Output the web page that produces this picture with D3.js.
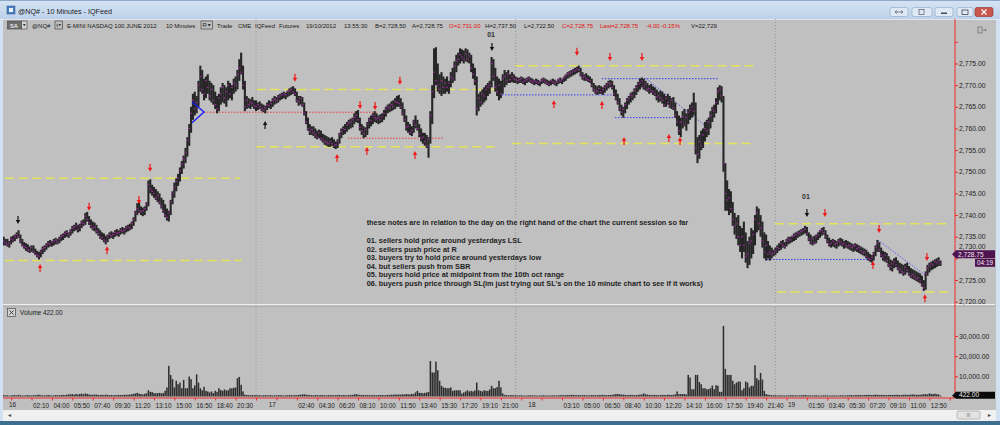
<!DOCTYPE html>
<html><head><meta charset="utf-8">
<script src="https://cdn.jsdelivr.net/npm/d3@7"></script>
<style>
html,body{margin:0;padding:0;background:#c0c0c0;overflow:hidden}
svg{display:block}
text{font-family:"Liberation Sans",Arial,sans-serif}
</style></head><body>
<svg id="c" width="1000" height="425"></svg>
<script>
// ---------------- DATA ----------------
// bar index: 140 ten-minute bars per session, session 16 starts at index 0
const sessionStarts = [4, 140, 280, 420];
// [high, low, close] per 10-minute bar
const bars16 = [
[2735,2733,2734],[2734.5,2733,2733.5],[2734.5,2732.75,2733.25],[2734,2732.5,2733.5],[2735,2733.25,2734.5],[2735.25,2733.75,2734.25],[2735.5,2734,2735],[2736,2734.5,2735.5],[2736.5,2734.75,2735],[2735.5,2733.5,2734],
[2734.5,2732.75,2733],[2733.75,2732.25,2732.75],[2733.5,2731.75,2732.5],[2733.25,2731.5,2732],[2732.75,2731.25,2731.75],[2733,2731.5,2732.5],[2733,2731.25,2731.5],[2732.25,2730.75,2731],[2731.75,2730.25,2730.75],[2731.5,2729.75,2730.5],
[2732,2730.25,2731.5],[2732.75,2731,2732.25],[2733,2731.5,2732.5],[2733.5,2732,2733],[2734,2732.5,2733.5],[2734.25,2732.75,2733.25],[2734,2732.75,2733.75],[2734.5,2733,2734],[2734.75,2733.25,2734.25],[2734.5,2733.25,2733.75],
[2735,2733.5,2734.5],[2735.5,2734,2735],[2735.75,2734.25,2735.25],[2736.25,2734.75,2735.75],[2736.5,2735,2736],[2736,2734.75,2735.5],[2736.75,2735.25,2736.25],[2737.5,2735.75,2737],[2737.75,2736.25,2737.25],[2738.25,2736.5,2737.5],
[2737.75,2736,2736.75],[2738,2736.25,2737.5],[2738.75,2737,2738.25],[2739,2737.5,2738],[2740.5,2737.75,2739.75],[2740.75,2738.5,2739],[2739.75,2737.75,2738.25],[2739,2737,2737.5],[2738.5,2736.5,2737],[2738.25,2736.25,2737.25],
[2737.75,2735.75,2736.25],[2737,2735.25,2735.75],[2736.5,2734.5,2735],[2736,2734.25,2734.75],[2735.75,2733.75,2734.25],[2735.25,2733.25,2734],[2735.5,2733.75,2735],[2736,2734.5,2735.5],[2736.25,2734.75,2735.25],[2736,2734.5,2735.5],
[2736.5,2735,2736],[2736.75,2735.25,2735.75],[2736.5,2735,2736],[2737,2735.5,2736.5],[2737.25,2735.75,2736.25],[2737,2735.5,2736.5],[2737.5,2736,2737],[2737.75,2736.25,2737.25],[2738,2736.5,2737],[2738.5,2736.75,2738],
[2739.5,2737.5,2739],[2741,2738.5,2740.5],[2742.75,2740,2741.5],[2743,2740.5,2741],[2742,2740,2740.75],[2741.75,2739.75,2741],[2742,2740,2741.5],[2743,2741,2742.5],[2748,2742,2747],[2748.25,2745,2746],
[2747,2744.5,2745.5],[2746.5,2744,2745],[2746,2743.5,2744],[2745.5,2743,2744.5],[2745,2742.5,2743],[2744,2741.5,2742],[2743.5,2740.5,2741],[2742.5,2739.5,2740],[2741.5,2738.75,2739.5],[2741,2738.5,2740.5],
[2743.5,2740,2743],[2745.5,2742.5,2745],[2747.5,2744,2746.5],[2748.5,2745.5,2747.75],[2749.5,2746.75,2748.5],[2751,2747.75,2750.25],[2752.5,2749.5,2751.75],[2753.75,2750.75,2753],[2755.5,2752,2754.5],[2758,2753.5,2757.25],
[2761,2756,2760],[2765,2759,2763.5],[2768,2762,2766.5],[2768.5,2763,2764.5],[2767.5,2763.5,2766],[2771,2765,2770],[2774.5,2768.5,2772],[2773.5,2768,2769],[2771.5,2766.5,2768],[2772,2767,2771],
[2772.5,2768,2769.5],[2771,2766.5,2767.5],[2770.5,2766,2769],[2770,2765.5,2766.5],[2768.5,2764.5,2765.5],[2767.5,2763.5,2764.5],[2768,2764,2767],[2769.5,2765.5,2768],[2770.5,2766,2769.5],[2770,2765.75,2767],
[2769.5,2765,2768.5],[2771,2766.5,2770],[2770.5,2767,2768],[2770,2766.5,2769.5],[2771.5,2768,2770.5],[2772,2768.5,2770],[2773.5,2769,2772.5],[2776,2771,2774],[2777.5,2772.5,2773],[2774.5,2769,2770],
[2771,2764,2765],[2767.5,2764.5,2766.5],[2767,2764.75,2765.5],[2766.75,2764.5,2766],[2767.25,2765,2765.75],[2766.5,2764.5,2765.25]];
const bars17 = [
[2766.5,2764,2765],[2766,2764.25,2765.5],[2766.25,2764.5,2765],[2765.75,2764,2764.5],[2765.5,2763.75,2764.25],[2765.25,2763.5,2764.75],[2766,2764.25,2765.5],[2766.5,2764.75,2765.25],[2766.25,2764.5,2765.75],[2767,2765,2766.5],
[2767.5,2765.5,2766.75],[2767.25,2765.75,2766.5],[2767.75,2766,2767.25],[2768,2766.5,2767.5],[2768.25,2766.75,2767.75],[2768.5,2767,2768],[2768.25,2766.75,2767.75],[2768.75,2767.25,2768.5],[2769.25,2767.5,2768.75],[2769.5,2767.75,2769],
[2769.75,2768,2768.5],[2769.25,2767.5,2768],[2768.5,2766,2766.5],[2767.5,2765.25,2766.25],[2767.5,2765.5,2767],[2767.25,2765,2765.5],[2766,2763,2763.5],[2764,2761,2761.5],[2762.5,2759.5,2760],[2761,2758.5,2759.25],
[2760.5,2758.5,2759.75],[2760.5,2758.25,2759],[2760,2757.75,2758.5],[2759.5,2757.5,2758],[2759.75,2757.75,2759],[2759.5,2757.25,2757.75],[2758.75,2756.75,2757.5],[2758.5,2756.25,2757],[2758.25,2756,2756.75],[2758,2755.75,2756.5],
[2757.75,2755.75,2757],[2758,2756,2756.5],[2757.5,2755.5,2756],[2757,2755.25,2756.25],[2757.5,2755.5,2757],[2759,2756.5,2758.5],[2760,2757.75,2759.25],[2760.5,2758.5,2760],[2761,2758.75,2759.75],[2761.5,2759.25,2760.75],
[2762,2759.75,2761.25],[2762.25,2760,2761.5],[2762.5,2760.25,2762],[2763.5,2761,2762.5],[2764,2761.5,2763],[2764.25,2761.25,2762],[2762.5,2759.5,2760.25],[2761,2758.5,2759.5],[2760.5,2757.75,2758.75],[2760.25,2758,2759.75],
[2761.5,2758.5,2761],[2762.5,2760,2762],[2763,2760.5,2761.75],[2763.5,2761,2763],[2764,2761.5,2762.5],[2763.5,2761.25,2762.25],[2763,2761,2762.5],[2763.25,2761.25,2762],[2763.5,2761.5,2762.75],[2764.25,2762,2763.5],
[2765,2762.75,2764.5],[2765.5,2763.5,2765],[2765.75,2763.75,2764.75],[2766.25,2764,2765.5],[2766.5,2764.25,2765],[2767,2764.5,2766.25],[2767.5,2765,2766],[2767.75,2765,2765.75],[2767,2764.5,2765],[2766,2763,2763.5],
[2764.5,2761.5,2762],[2763,2759.5,2760.25],[2761.5,2759,2760.5],[2761,2758.5,2759],[2760.5,2758.25,2759.5],[2762,2759,2761.5],[2763,2760,2760.75],[2762,2759.5,2760],[2761,2758,2758.75],[2760,2757,2757.75],
[2759,2756.5,2758],[2759,2756,2757],[2758.5,2755.5,2756],[2758,2753.25,2757.5],[2764,2756.5,2763],[2770,2761,2768.5],[2778.5,2767,2773],[2778.75,2770,2771],[2775,2768.5,2770],[2772.5,2768,2769],
[2773,2767.5,2771],[2772,2768,2769.5],[2771.5,2768,2770.5],[2772,2768.5,2769.5],[2771,2768,2770.5],[2773,2769.5,2772],[2774,2770.5,2771.5],[2775.5,2771,2774.5],[2777,2773,2775.5],[2777.5,2774.5,2776],
[2778.5,2775,2777],[2778.25,2775.5,2776.5],[2778,2775,2776],[2778.5,2775.5,2777.25],[2778.25,2775.25,2776],[2777.5,2775,2776.75],[2777,2773,2774],[2775,2771.5,2772.5],[2774,2770,2771],[2772,2763,2764.5],
[2768,2764,2767],[2768.5,2765,2766],[2769,2765.5,2768],[2769.5,2766,2767.5],[2770,2766.5,2769],[2770.5,2767.5,2769.5],[2771,2768,2770],[2776.5,2769.5,2775],[2776,2771,2772],[2774,2768.5,2769.5],
[2772,2767.5,2768.5],[2771.5,2766.5,2770],[2771,2767,2768],[2772.5,2768,2771.5],[2773.5,2769.5,2772],[2773,2770,2771],[2773.5,2770.5,2772.5],[2772.5,2770.5,2771.25],[2773,2770.75,2772],[2772.5,2770.5,2771.5]];
const bars18 = [
[2772,2770.5,2771.25],[2771.75,2770.25,2771],[2771.75,2770.5,2771.25],[2772,2770.5,2771.5],[2771.75,2770.25,2770.75],[2771.5,2770,2771],[2771.75,2770.5,2771.25],[2772,2770.75,2771.5],[2771.75,2770.5,2771],[2771.5,2770.25,2770.75],
[2771.25,2770,2771],[2771.5,2770.25,2770.75],[2771.25,2770,2770.5],[2771,2769.75,2770.75],[2771.5,2770.25,2771],[2771.75,2770.5,2771.25],[2771.5,2770.25,2770.75],[2771.25,2770,2770.5],[2771,2769.75,2770.25],[2771.25,2770,2771],
[2771.5,2770.25,2770.75],[2771.25,2770,2770.5],[2771,2769.75,2770.75],[2771.5,2770.25,2771.25],[2771.75,2770.5,2771],[2771.5,2770.25,2771.25],[2772,2770.75,2771.75],[2772.5,2771,2772.25],[2773,2771.5,2772.5],[2773.25,2771.75,2772.75],
[2773.5,2772,2773],[2773.75,2772.25,2773.5],[2774,2772.5,2773.25],[2774.25,2772.75,2773.75],[2774.5,2773,2773.5],[2774,2772,2772.5],[2773,2771.25,2771.75],[2772.5,2771,2772],[2772.75,2771,2771.5],[2772.25,2770.75,2771.25],
[2772,2770.5,2771],[2771.5,2769.5,2770],[2770.5,2768.5,2769],[2770,2768,2768.75],[2769.75,2767.75,2768.5],[2770,2768,2769.25],[2769.75,2768,2768.5],[2769.5,2767.75,2769],[2770,2768.25,2769.5],[2770.5,2768.75,2770],
[2771,2769.25,2770.5],[2771.25,2769.5,2770.25],[2771,2769,2769.5],[2770,2767.5,2768],[2769,2766.5,2767],[2768,2765.5,2766],[2767,2764,2764.5],[2765.5,2763,2763.75],[2765,2762.5,2764.5],[2766,2763.5,2765.5],
[2767,2764.5,2766.5],[2767.5,2765.5,2767],[2768.25,2766,2767.75],[2768.5,2766.5,2767.5],[2769.25,2767,2768.75],[2770,2767.75,2769.5],[2770.75,2768.5,2770.25],[2771.5,2769,2770.5],[2771.75,2769.5,2771],[2771.5,2769,2769.75],
[2771,2768.75,2770.25],[2770.5,2768.5,2769],[2770,2768,2769.25],[2770.25,2768.25,2768.75],[2769.75,2767.75,2768.5],[2769.5,2767.5,2768],[2769,2766.5,2767.25],[2768.5,2766,2767.5],[2768.75,2766.25,2767],[2768.5,2765.75,2766.5],
[2768,2765,2765.5],[2767.5,2765,2767],[2768,2765.5,2766],[2767.5,2764.75,2765.25],[2767,2764.5,2766.5],[2767.25,2764.25,2764.75],[2766,2762.5,2763],[2764,2760.5,2761.5],[2763,2758.5,2759.5],[2762.5,2758,2761.5],
[2764,2760,2762.75],[2764.5,2760.5,2761],[2763.5,2759.5,2762.5],[2764.5,2761,2763.75],[2765.5,2762,2764.25],[2766,2762.5,2765],[2768.25,2763,2764],[2766,2754,2755.5],[2758,2752,2754],[2758.5,2753,2757],
[2759.5,2755,2756],[2760,2755.5,2758.5],[2761.5,2757,2760],[2762,2758,2759.5],[2762.5,2758.5,2761.5],[2764,2760,2763],[2765,2761.5,2764.5],[2765.5,2762.5,2764],[2767,2763.5,2766],[2769.5,2765.5,2768.5],
[2770,2766.5,2769],[2769.75,2766,2767.5],[2767.5,2750,2752],[2752,2741,2745],[2748,2741,2743.5],[2746,2740,2744],[2745.5,2740.5,2741.5],[2743,2737.5,2739],[2740.5,2735.5,2737.5],[2739.5,2734.5,2738],
[2740,2733,2735],[2737.5,2731.5,2733],[2737,2730,2735],[2738.5,2731.5,2733],[2736,2729,2730.5],[2734,2727.75,2731],[2735,2728.5,2733.5],[2737,2730,2734],[2736.5,2731,2735.5],[2740,2733,2739],
[2742,2736,2740.5],[2741.5,2736.5,2738],[2740,2735,2737],[2738.5,2732.5,2734],[2736,2730,2731.5],[2735.5,2729.5,2733],[2734,2730,2731],[2733,2729.5,2731.5],[2732.5,2730,2731],[2732,2730.5,2731.25]];
const bars19 = [
[2732.5,2730.75,2731.75],[2733,2731.25,2732.5],[2733.5,2731.75,2732.25],[2734,2732,2733.5],[2734.25,2732.5,2733],[2733.75,2732.25,2732.75],[2734.5,2732.75,2734],[2735,2733.25,2734.5],[2735,2733.5,2734.25],[2735.25,2733.75,2735],
[2735.75,2734,2735.25],[2736,2734.25,2735.5],[2736.25,2734.75,2736],[2736.5,2735,2735.75],[2736.75,2735.25,2736.25],[2737,2735.5,2736.5],[2737.5,2735.75,2736.75],[2737.25,2735.25,2735.75],[2736,2734,2734.5],[2735.5,2733.25,2733.75],
[2735,2733,2734.5],[2735.25,2733.25,2733.5],[2735.5,2733.5,2735],[2736,2734.25,2735.5],[2736.5,2734.75,2736.25],[2737,2735.25,2736.5],[2737.25,2735.5,2736],[2736.5,2734.5,2735],[2735.5,2733.5,2734],[2734.75,2732.75,2733.25],
[2734.25,2732.5,2733.5],[2734.5,2732.75,2734],[2734.25,2732.5,2733.25],[2734,2732.25,2733.5],[2734.5,2732.75,2734],[2734.75,2733,2733.75],[2734.5,2732.75,2733.25],[2734,2732.25,2733.5],[2734.25,2732.5,2733],[2734,2732.25,2732.75],
[2733.75,2732,2733],[2733.5,2731.75,2732.5],[2733.25,2731.5,2732.75],[2733.5,2731.75,2733],[2733.25,2731.5,2732.25],[2733,2731.25,2732.5],[2732.75,2731,2731.75],[2732.5,2730.75,2731.25],[2732.25,2730.5,2731.5],[2732,2730,2730.5],
[2731.5,2729.5,2730],[2731,2729.25,2729.75],[2730.75,2729,2730.25],[2731.5,2729.5,2731],[2733,2730.5,2732.5],[2734.25,2731.5,2733.5],[2733.75,2731.5,2732],[2732.5,2730.25,2730.75],[2731.75,2729.5,2730.25],[2731.5,2729.25,2730.75],
[2731.25,2729,2729.5],[2730.5,2728,2728.5],[2729.75,2727.25,2728],[2729.5,2727,2728.75],[2730,2727.75,2729.25],[2730.25,2728,2728.5],[2729.5,2727.25,2727.75],[2729,2726.5,2727.5],[2728.75,2726.5,2727],[2728.5,2726,2726.75],
[2728.75,2726.25,2728],[2729,2726.75,2727.25],[2728.25,2726,2726.5],[2727.75,2725.5,2726],[2727.5,2725.25,2726.25],[2727.25,2725,2725.75],[2727,2724.75,2725.25],[2726.75,2724.5,2725.5],[2726.5,2724.25,2724.75],[2726,2723.5,2724],
[2725,2722.5,2723.25],[2727,2722.75,2726.5],[2728.5,2726,2727.75],[2729,2726.75,2728.25],[2729.25,2727.25,2728.75],[2729.5,2727.5,2728.5],[2729.75,2727.75,2729.25],[2730,2728,2729],[2730.25,2728.25,2729.5],[2729.5,2728.25,2728.75]];

const vol16 = [700,500,600,400,500,650,700,550,800,600, 500,450,600,700,550,500,650,600,750,900,
600,550,500,650,700,600,500,550,700,650, 600,700,800,650,900,1000,1100,1200,900,1300,
1000,1200,1400,1100,1500,1300,1000,900,800,1000, 900,800,700,850,700,900,800,650,700,600,
700,650,800,750,700,900,800,850,1000,1100, 1300,1500,1800,1400,1200,1000,1300,1600,
3100,2300,2300,1700,1600,1700,1800,1600,1700,2800,
4500,15200,10700,8600,4500,7800,6100,6900,4100,8200, 4100,4100,9900,8600,4100,5500,11000,6900,4100,3100,
4800,2800,2500,2000,2500,1700,2800,2300,4100,3200, 2800,3500,3000,3100,4100,4000,4400,4400,9000,9700,
5800,2500,900,800,700,600,700,650];
const vol17 = [700,600,650,500,600,700,550,600,650,500, 600,550,700,650,600,500,550,600,700,650,
600,700,650,800,900,1000,1100,900,800,700, 650,600,700,650,600,700,650,600,550,700,
650,700,600,650,700,750,600,700,650,600, 700,750,800,1000,1200,900,800,700,750,650,
700,650,600,700,650,600,700,750,700,650, 700,800,750,900,850,1000,950,1000,900,1100,
1000,1200,1100,1000,1300,1200,2000,2800,1800,1800, 1600,1800,2000,2200,17600,11900,11900,17300,13000,7800,
5300,4500,4300,4100,4100,4500,2800,3000,3100,3100, 3100,1500,2000,2500,3100,2500,2800,2500,3000,6900,
3100,2800,2500,3100,2800,2800,3500,5300,4100,4100, 4700,7800,4500,1500,800,700,600,650,700,600];
const vol18 = [600,500,550,600,500,450,500,550,600,500, 550,500,450,500,550,600,500,450,500,550,
600,550,500,600,650,700,600,650,700,750, 800,750,700,650,700,600,650,700,600,550,
600,650,700,600,650,700,750,800,700,650, 700,750,800,1000,1200,1200,1100,1000,900,800,
700,750,800,700,650,700,800,900,1000,1500, 1100,900,800,700,750,800,700,650,700,800,
750,700,900,800,700,900,1000,2500,1200,1200, 1200,1200,1000,10700,9400,3600,3600,10700,10700,7200,
6100,4100,4100,3600,3600,4100,5400,3600,5600,5300, 2300,2300,35000,13700,10700,10700,10700,7800,6100,6900,
7400,7400,3100,4100,7400,6900,4500,5300,5300,15500, 9100,8100,11700,8400,2800,1200,900,700,650,600];
const vol19 = [600,500,550,600,500,450,500,550,600,650, 550,600,500,550,600,650,700,600,550,500,
500,550,600,500,450,500,550,600,500,450, 500,550,500,450,500,550,600,500,550,600,
650,700,600,650,700,750,700,650,700,750, 800,750,700,800,900,850,700,750,800,700,
700,750,800,700,750,800,850,700,750,800, 900,850,800,900,1000,900,850,800,900,1000,
1100,1200,1000,1500,1300,1200,1400,1100,1000,422];

// time axis: a tick every 11 bars from bar 8; day labels at 00:00
const timeTickLabels = ["","02:10","04:00","05:50","07:40","09:30","11:20","13:10","15:00","16:50","18:40","20:30",
"","","02:40","04:30","06:20","08:10","10:00","11:50","13:40","15:30","17:20","19:10","21:00",
"","","03:10","05:00","06:50","08:40","10:30","12:20","14:10","16:00","17:50","19:40","21:40",
"","01:50","03:40","05:30","07:20","09:10","11:00","12:50",""];
const dayLabels = ["16","17","18","19"];
const dayLabelBars = [6,146,286,426];
const priceTicks = [2720,2725,2730,2735,2740,2745,2750,2755,2760,2765,2770,2775];
const volTicks = [10000,20000,30000];

// drawn study lines: [fromBar, toBar, price]
const yellowLevels = [[4.7,131.4,2748.5],[4.7,132.4,2729.5],[140.5,270.5,2769],[140,270.5,2755.75],[279.6,410.6,2774.5],[278,409,2756.5],[419.8,514,2738],[420.9,514,2722.25]];
const redLevels = [[112,205.8,2763.75],[189.6,240.8,2757.75]];
const blueLevels = [[272.6,334.6,2767.75],[326.5,389.6,2771.5],[333.5,367.5,2762.5],[415.5,472.6,2729.75]];
const blueTrend = [[350.2,2771.5,383.1,2760.3],[475.3,2734.2,500.6,2726.2]];
const triangle = [[105.5,2766.1],[112,2763.8],[105.5,2761.3]];
// arrows [bar, price]
const redDown = [[50,2741.9],[76.9,2743.5],[82.9,2750.9],[161,2771.7],[196.1,2765.4],[204.2,2765.2],[217.6,2771],[313,2777.7],[330.8,2776.5],[348.1,2776.5],[446.7,2740.5],[475.9,2736.8],[501.7,2730.3]];
const redUp = [[23.6,2727.8],[59.7,2731.9],[183.7,2753.2],[199.8,2754.8],[225.7,2753.9],[300.6,2765.6],[326.5,2765.4],[338.4,2757.1],[362.6,2757.8],[368.6,2757.1],[472.6,2728.5],[500.6,2720.8]];
const blackDown = [[11.7,2738.85],[267.2,2778.8],[437,2740.5]];
const blackUp = [[144.9,2760.8]];
const markLabels = [[266.7,2781.1,"01"],[436.5,2743.7,"01"]];
const notes = ["these notes are in relation to the day on the right hand of the chart the current session so far","",
"01. sellers hold price around yesterdays LSL","02. sellers push price at R","03. buyers try to hold price around yesterdays low",
"04. but sellers push from SBR","05. buyers hold price at midpoint from the 10th oct range",
"06. buyers push price through SL(im just trying out SL's on the 10 minute chart to see if it works)"];
const lastPrice = 2728.75, lastVol = 422, barTimer = "04:19";

// ---------------- DRAW ----------------
const W=1000,H=425;
const svg=d3.select("#c");
const x=d3.scaleLinear().domain([0,140]).range([-3.7,256]);
const yP=d3.scaleLinear().domain([2720,2775]).range([301.7,63.5]);
const yV=d3.scaleLinear().domain([0,30000]).range([396.5,336]);
const AX=955, PT=19, PB=304, VT=307, VB=398;
const defs=svg.append("defs");
const g1=defs.append("linearGradient").attr("id","tb").attr("x1",0).attr("y1",0).attr("x2",0).attr("y2",1);
g1.append("stop").attr("offset",0).attr("stop-color","#d6e4f3");
g1.append("stop").attr("offset",1).attr("stop-color","#bcd2ea");
defs.append("clipPath").attr("id","cp").append("rect").attr("x",3).attr("y",PT).attr("width",AX-3).attr("height",PB-PT);
defs.append("clipPath").attr("id","cv").append("rect").attr("x",3).attr("y",VT).attr("width",AX-3).attr("height",VB-VT);

svg.append("rect").attr("width",W).attr("height",H).attr("fill","#c0c0c0");
// window chrome
svg.append("rect").attr("x",0).attr("y",0).attr("width",W).attr("height",19).attr("fill","url(#tb)");
svg.append("rect").attr("x",0).attr("y",0).attr("width",W).attr("height",1).attr("fill","#8ea9c7");
svg.append("rect").attr("x",0).attr("y",19).attr("width",3).attr("height",H-19).attr("fill","#d2e1f1");
svg.append("rect").attr("x",996).attr("y",19).attr("width",4).attr("height",H-19).attr("fill","#d2e1f1");
svg.append("rect").attr("x",3).attr("y",410).attr("width",993).attr("height",11).attr("fill","#f0f0f0");
svg.append("rect").attr("x",0).attr("y",421).attr("width",W).attr("height",4).attr("fill","#3d6e8e");
svg.append("text").attr("x",8).attr("y",417).attr("font-size",6).attr("fill","#444").text("◂");
svg.append("rect").attr("x",957).attr("y",411).attr("width",23).attr("height",8).attr("rx",1.5).attr("fill","#e2e2e2").attr("stroke","#9a9a9a").attr("stroke-width",0.6);
svg.append("text").attr("x",968.5).attr("y",417.3).attr("text-anchor","middle").attr("font-size",4.5).attr("fill","#666").text("III");
svg.append("text").attr("x",988).attr("y",417).attr("font-size",6).attr("fill","#444").text("▸");
// title
svg.append("rect").attr("x",7).attr("y",6).attr("width",8).attr("height",8).attr("fill","#4a7ec2").attr("stroke","#2a4f86").attr("stroke-width",0.5);
svg.append("rect").attr("x",9).attr("y",8).attr("width",4).attr("height",4).attr("fill","#e8f0fa");
svg.append("text").attr("x",18).attr("y",14).attr("font-size",7.2).attr("fill","#1c1c1c").text("@NQ# - 10 Minutes - IQFeed");
const btn=[[890,908],[912,932],[935,953],[957,973],[975,993]];
btn.forEach((b,k)=>{
  svg.append("rect").attr("x",b[0]).attr("y",7.5).attr("width",b[1]-b[0]).attr("height",9).attr("rx",2)
   .attr("fill",k==4?"#c9564a":"#dfe9f5").attr("stroke",k==4?"#8e3028":"#8ea5c0").attr("stroke-width",0.6);
});
svg.append("path").attr("d","M895,12h8M897,10.5l-2,1.5l2,1.5M901,10.5l2,1.5l-2,1.5").attr("stroke","#556").attr("stroke-width",0.7).attr("fill","none");
svg.append("rect").attr("x",919).attr("y",9.5).attr("width",5).attr("height",5).attr("fill","none").attr("stroke","#556").attr("stroke-width",0.7);
svg.append("rect").attr("x",941).attr("y",12.5).attr("width",6).attr("height",1.5).attr("fill","#445");
svg.append("rect").attr("x",962).attr("y",10).attr("width",6).attr("height",4.5).attr("fill","none").attr("stroke","#445").attr("stroke-width",0.8);
svg.append("path").attr("d","M981.5,9.5l5,5M986.5,9.5l-5,5").attr("stroke","#fff").attr("stroke-width",1.3);
svg.append("rect").attr("x",0).attr("y",19).attr("width",W).attr("height",0.8).attr("fill","#e8eef5");

// session separators
svg.append("g").selectAll("line").data(sessionStarts.slice(1)).join("line")
 .attr("x1",d=>x(d)).attr("x2",d=>x(d)).attr("y1",PT).attr("y2",VB)
 .attr("stroke","#8c8c8c").attr("stroke-width",0.8).attr("stroke-dasharray","1,2");

// header toolbar
const hdr=svg.append("g").attr("font-size",6).attr("fill","#1a1a1a");
hdr.append("rect").attr("x",7.5).attr("y",21).attr("width",14).attr("height",8).attr("fill","#6e6e6e").attr("stroke","#3e3e3e").attr("stroke-width",0.6);
hdr.append("text").attr("x",10).attr("y",27.5).attr("fill","#e8e8e8").attr("font-weight","bold").attr("font-size",5.6).text("SA");
hdr.append("rect").attr("x",21.5).attr("y",21).attr("width",5.5).attr("height",8).attr("fill","#d4d4d4").attr("stroke","#3e3e3e").attr("stroke-width",0.6);
hdr.append("path").attr("d","M22.8,24.3h3l-1.5,1.8z").attr("fill","#111");
hdr.append("rect").attr("x",55).attr("y",21).attr("width",7.5).attr("height",8).attr("fill","none").attr("stroke","#333").attr("stroke-width",0.6);
hdr.append("path").attr("d","M57.2,23.8v3.4").attr("stroke","#111").attr("stroke-width",0.6);
hdr.append("path").attr("d","M58.3,24.3h3l-1.5,1.8z").attr("fill","#111");
hdr.append("rect").attr("x",201).attr("y",21).attr("width",11.5).attr("height",8).attr("fill","none").attr("stroke","#333").attr("stroke-width",0.6);
hdr.append("text").attr("x",202.6).attr("y",27.4).attr("font-size",6).text("R");
hdr.append("path").attr("d","M207.5,24.3h3.4l-1.7,2z").attr("fill","#111");
const hItems=[["@NQ#",32,0],["E-MINI NASDAQ 100 JUNE 2012",67,0],["10 Minutes",166,0],["Trade",217,0],["CME",238,0],["IQFeed",255,0],["Futures",279,0],
["19/10/2012",306,0],["13:55:30",344,0],["B=2,728.50",375,0],["A=2,728.75",412,0],["O=2,731.00",449,1],["H=2,737.50",485,0],["L=2,722.50",524,0],
["C=2,728.75",562,1],["Last=2,728.75",600,1],["-4.00",646,1],["-0.15%",661,1],["V=22,729",691,0]];
hItems.forEach(d=>hdr.append("text").attr("x",d[1]).attr("y",27.5).attr("fill",d[2]?"#e01010":"#1a1a1a").text(d[0]));
// top right icon
svg.append("rect").attr("x",978).attr("y",27).attr("width",4).attr("height",6).attr("fill","none").attr("stroke","#555").attr("stroke-width",0.6);
svg.append("path").attr("d","M983,30h3M985,29l1.2,1l-1.2,1").attr("stroke","#555").attr("stroke-width",0.6).attr("fill","none");

// build bars
const sets=[[bars16,vol16],[bars17,vol17],[bars18,vol18],[bars19,vol19]];
const bars=[];
sets.forEach((s,k)=>s[0].forEach((b,j)=>bars.push({i:sessionStarts[k]+j,h:b[0],l:b[1],c:b[2],v:s[1][j]})));

// annotation layers (price pane)
const pp=svg.append("g").attr("clip-path","url(#cp)");
const lineG=pp.append("g");
lineG.selectAll(".yl").data(yellowLevels).join("line").attr("x1",d=>x(d[0])).attr("x2",d=>x(d[1])).attr("y1",d=>yP(d[2])).attr("y2",d=>yP(d[2]))
 .attr("stroke","#e4e35a").attr("stroke-width",1.5).attr("stroke-dasharray","9,4.5");
lineG.selectAll(".rl").data(redLevels).join("line").attr("x1",d=>x(d[0])).attr("x2",d=>x(d[1])).attr("y1",d=>yP(d[2])).attr("y2",d=>yP(d[2]))
 .attr("stroke","#f03a3a").attr("stroke-width",1).attr("stroke-dasharray","1.5,1.5");
lineG.selectAll(".bl").data(blueLevels).join("line").attr("x1",d=>x(d[0])).attr("x2",d=>x(d[1])).attr("y1",d=>yP(d[2])).attr("y2",d=>yP(d[2]))
 .attr("stroke","#3a3af0").attr("stroke-width",1).attr("stroke-dasharray","1.5,1.5");
lineG.selectAll(".bt").data(blueTrend).join("line").attr("x1",d=>x(d[0])).attr("x2",d=>x(d[2])).attr("y1",d=>yP(d[1])).attr("y2",d=>yP(d[3]))
 .attr("stroke","#5a5af0").attr("stroke-width",1).attr("stroke-dasharray","1.5,1.5");

// price bars
const barG=pp.append("g");
barG.selectAll("rect").data(bars).join("rect").attr("x",d=>x(d.i)-1.05).attr("width",2.1)
 .attr("y",d=>yP(d.h)).attr("height",d=>Math.max(1,yP(d.l)-yP(d.h))).attr("fill","#262626");
barG.append("g").selectAll("rect").data(bars).join("rect").attr("x",d=>x(d.i)-1.05).attr("width",2.1)
 .attr("y",d=>yP(d.c)-0.6).attr("height",1.2).attr("fill","#8a2c8a");

// triangle
pp.append("path").attr("d",d3.line().x(d=>x(d[0])).y(d=>yP(d[1]))(triangle)).attr("fill","none").attr("stroke","#1a1aff").attr("stroke-width",1.4);

// arrows
function arrow(g,cx,cy,s,col){
  g.append("path").attr("d",`M${cx-0.6},${cy-4*s}L${cx+0.6},${cy-4*s}L${cx+0.6},${cy}L${cx+2.2},${cy}L${cx},${cy+4*s}L${cx-2.2},${cy}L${cx-0.6},${cy}Z`).attr("fill",col);
}
const ag=pp.append("g");
redDown.forEach(d=>arrow(ag,x(d[0]),yP(d[1]),1,"#f01818"));
redUp.forEach(d=>arrow(ag,x(d[0]),yP(d[1]),-1,"#f01818"));
blackDown.forEach(d=>arrow(ag,x(d[0]),yP(d[1]),1,"#111"));
blackUp.forEach(d=>arrow(ag,x(d[0]),yP(d[1]),-1,"#111"));
markLabels.forEach(d=>pp.append("text").attr("x",x(d[0])).attr("y",yP(d[1])).attr("text-anchor","middle").attr("font-size",7).attr("font-weight","bold").attr("fill","#333").text(d[2]));

// notes
const nt=svg.append("g").attr("font-size",7.3).attr("font-weight","bold").attr("fill","#1e1e1e");
const noteY=[224.5,234,243,251.6,260.2,268.8,277.4,286];
notes.forEach((t,k)=>{ if(t) nt.append("text").attr("x",366.7).attr("y",noteY[k]).text(t); });

// panel separator
svg.append("rect").attr("x",3).attr("y",PB).attr("width",AX+40-3).attr("height",1.6).attr("fill","#efefef");
svg.append("rect").attr("x",3).attr("y",PB+1.6).attr("width",AX+40-3).attr("height",0.8).attr("fill","#9a9a9a");

// volume
const vp=svg.append("g").attr("clip-path","url(#cv)");
vp.selectAll("rect").data(bars).join("rect").attr("x",d=>x(d.i)-0.75).attr("width",1.5)
 .attr("y",d=>yV(d.v)).attr("height",d=>yV(0)-yV(d.v)).attr("fill","#2c2c2c");
svg.append("rect").attr("x",7.5).attr("y",308.5).attr("width",8).attr("height",8).attr("fill","#d4d4d4").attr("stroke","#333").attr("stroke-width",0.6);
svg.append("path").attr("d","M9.3,310.3l4.4,4.4M13.7,310.3l-4.4,4.4").attr("stroke","#222").attr("stroke-width",0.8);
svg.append("text").attr("x",20).attr("y",315).attr("font-size",6.4).attr("fill","#1a1a1a").text("Volume");
svg.append("text").attr("x",43).attr("y",315).attr("font-size",6.4).attr("fill","#1a1a1a").text(d3.format(".2f")(lastVol));

// axes
const red="#ee2a2a";
svg.append("line").attr("x1",AX).attr("x2",AX).attr("y1",PT).attr("y2",VB).attr("stroke",red).attr("stroke-width",1);
svg.append("line").attr("x1",3).attr("x2",AX).attr("y1",VB).attr("y2",VB).attr("stroke",red).attr("stroke-width",1.2);
const pAx=svg.append("g").attr("transform",`translate(${AX},0)`)
 .call(d3.axisRight(yP).tickValues(priceTicks.concat([2780])).tickSize(3).tickPadding(1).tickFormat(d=>d>2775?"":d3.format(",.2f")(d)));
const vAx=svg.append("g").attr("transform",`translate(${AX},0)`)
 .call(d3.axisRight(yV).tickValues(volTicks).tickSize(3).tickPadding(1).tickFormat(d3.format(",.2f")));
[pAx,vAx].forEach(a=>{a.select(".domain").remove();a.selectAll("line").attr("stroke",red);
 a.selectAll("text").attr("font-size",6.8).attr("fill","#222").attr("font-family","Liberation Sans, Arial, sans-serif");});
const tickBars=timeTickLabels.map((t,k)=>8+11*k);
const tAx=svg.append("g").attr("transform",`translate(0,${VB})`)
 .call(d3.axisBottom(x).tickValues(tickBars).tickSize(2.5).tickPadding(3).tickFormat((d,k)=>timeTickLabels[k]));
tAx.select(".domain").remove();
tAx.selectAll("line").attr("stroke",red);
tAx.selectAll("text").attr("text-anchor","start").attr("dx",1).attr("font-size",6.4).attr("fill","#222").attr("font-family","Liberation Sans, Arial, sans-serif");
dayLabels.forEach((t,k)=>svg.append("text").attr("x",x(dayLabelBars[k])+1.5).attr("y",VB+9.3).attr("font-size",6.4).attr("fill","#222").text(t));

// last price tag (drawn above the price, with bar timer beneath)
const ly=yP(lastPrice)-9.5;
// the axis label hidden by the tag is pushed just above it
pAx.selectAll(".tick").filter(d=>Math.abs(yP(d)-ly)<14).select("text").attr("y",d=>ly-7.8-yP(d));
svg.append("path").attr("d",`M${AX-3},${ly}L${AX+1},${ly-4}H995V${ly+4}H${AX+1}Z`).attr("fill","#4e1450");
svg.append("text").attr("x",958).attr("y",ly+2.3).attr("font-size",6.6).attr("fill","#f4e8f4").text(d3.format(",.2f")(lastPrice));
svg.append("rect").attr("x",975).attr("y",ly+4.5).attr("width",20).attr("height",8).attr("fill","#4e1450");
svg.append("text").attr("x",977).attr("y",ly+10.8).attr("font-size",6.4).attr("fill","#f4e8f4").text(barTimer);
const vy=yV(lastVol);
svg.append("path").attr("d",`M${AX-3},${vy}L${AX+1},${vy-4}H995V${vy+3}H${AX+1}Z`).attr("fill","#0a0a0a");
svg.append("text").attr("x",959).attr("y",vy+1.8).attr("font-size",6.6).attr("fill","#f0f0f0").text(d3.format(".2f")(lastVol));
</script></body></html>
